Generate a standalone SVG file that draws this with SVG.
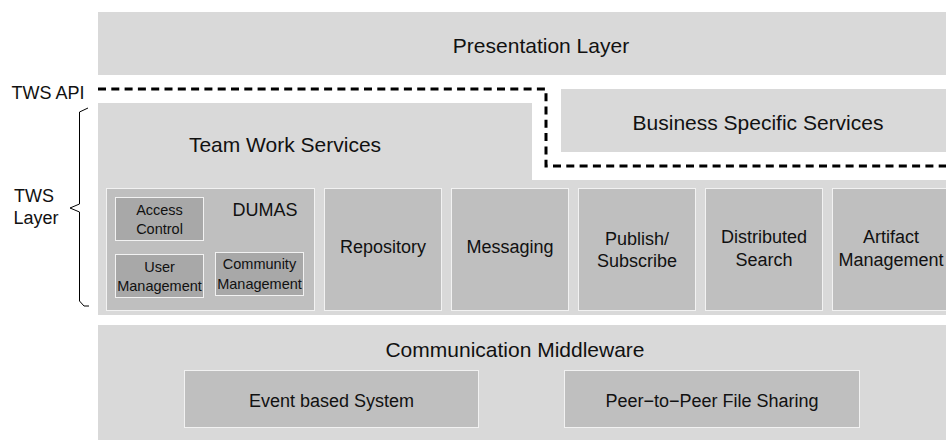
<svg xmlns="http://www.w3.org/2000/svg" width="946" height="441" viewBox="0 0 946 441">
  <style>
    text { font-family: "Liberation Sans", Arial, sans-serif; fill: #111; text-anchor: middle; }
    .layer { fill: #d9d9d9; }
    .mod { fill: #bfbfbf; stroke: #f2f2f2; stroke-width: 1; }
    .sub { fill: #a8a8a8; stroke: #f2f2f2; stroke-width: 1; }
    .big { font-size: 21px; }
    .mid { font-size: 18px; }
    .small { font-size: 14.5px; }
    .api { fill: none; stroke: #000; stroke-width: 3; stroke-dasharray: 8 5.3; }
    .brace { fill: none; stroke: #000; stroke-width: 1; }
  </style>
  <rect width="946" height="441" fill="#fff"/>

  <g id="presentation">
    <rect class="layer" x="98" y="12" width="848" height="63"/>
    <text class="big" x="541" y="53">Presentation Layer</text>
  </g>

  <g id="business">
    <rect class="layer" x="561" y="89" width="385" height="63"/>
    <text class="big" x="758" y="130">Business Specific Services</text>
  </g>

  <g id="tws">
    <path class="layer" d="M98,103 H532 V180 H946 V315 H98 Z"/>
    <text class="big" x="285" y="152">Team Work Services</text>
  </g>

  <g id="dumas">
    <rect class="mod" x="106.5" y="188.5" width="208" height="122"/>
    <text class="mid" x="265" y="216">DUMAS</text>
  </g>
  <g id="access-control">
    <rect class="sub" x="115.5" y="197.5" width="88" height="43"/>
    <text class="small" x="159.5" y="215">Access</text>
    <text class="small" x="159.5" y="234">Control</text>
  </g>
  <g id="user-management">
    <rect class="sub" x="115.5" y="254.5" width="88" height="43"/>
    <text class="small" x="159.5" y="272">User</text>
    <text class="small" x="159.5" y="291">Management</text>
  </g>
  <g id="community-management">
    <rect class="sub" x="215.5" y="252.5" width="88" height="43"/>
    <text class="small" x="259.5" y="269">Community</text>
    <text class="small" x="259.5" y="289">Management</text>
  </g>

  <g id="repository">
    <rect class="mod" x="324.5" y="188.5" width="117" height="122"/>
    <text class="mid" x="383" y="253">Repository</text>
  </g>
  <g id="messaging">
    <rect class="mod" x="451.5" y="188.5" width="117" height="122"/>
    <text class="mid" x="510" y="253">Messaging</text>
  </g>
  <g id="publish-subscribe">
    <rect class="mod" x="578.5" y="188.5" width="117" height="122"/>
    <text class="mid" x="637" y="245">Publish/</text>
    <text class="mid" x="637" y="267">Subscribe</text>
  </g>
  <g id="distributed-search">
    <rect class="mod" x="705.5" y="188.5" width="117" height="122"/>
    <text class="mid" x="764" y="243">Distributed</text>
    <text class="mid" x="764" y="266">Search</text>
  </g>
  <g id="artifact-management">
    <rect class="mod" x="832.5" y="188.5" width="117" height="122"/>
    <text class="mid" x="891" y="243">Artifact</text>
    <text class="mid" x="891" y="266">Management</text>
  </g>

  <g id="middleware">
    <rect class="layer" x="98" y="325" width="848" height="115"/>
    <text class="big" x="515" y="357">Communication Middleware</text>
  </g>
  <g id="event-system">
    <rect class="mod" x="184.5" y="370.5" width="294" height="57"/>
    <text class="mid" x="331.5" y="407">Event based System</text>
  </g>
  <g id="p2p-sharing">
    <rect class="mod" x="564.5" y="370.5" width="295" height="57"/>
    <text class="mid" x="712" y="407">Peer−to−Peer File Sharing</text>
  </g>

  <g id="connectors">
    <path class="api" d="M98,89 H546 V166 H946"/>
    <path class="brace" d="M88,108 L79.5,112 V204 L70,208 L79.5,212 V301 L84,306 H89"/>
  </g>

  <g id="labels">
    <text class="mid" x="48" y="99">TWS API</text>
    <text class="mid" x="34" y="202">TWS</text>
    <text class="mid" x="36" y="224">Layer</text>
  </g>
</svg>
